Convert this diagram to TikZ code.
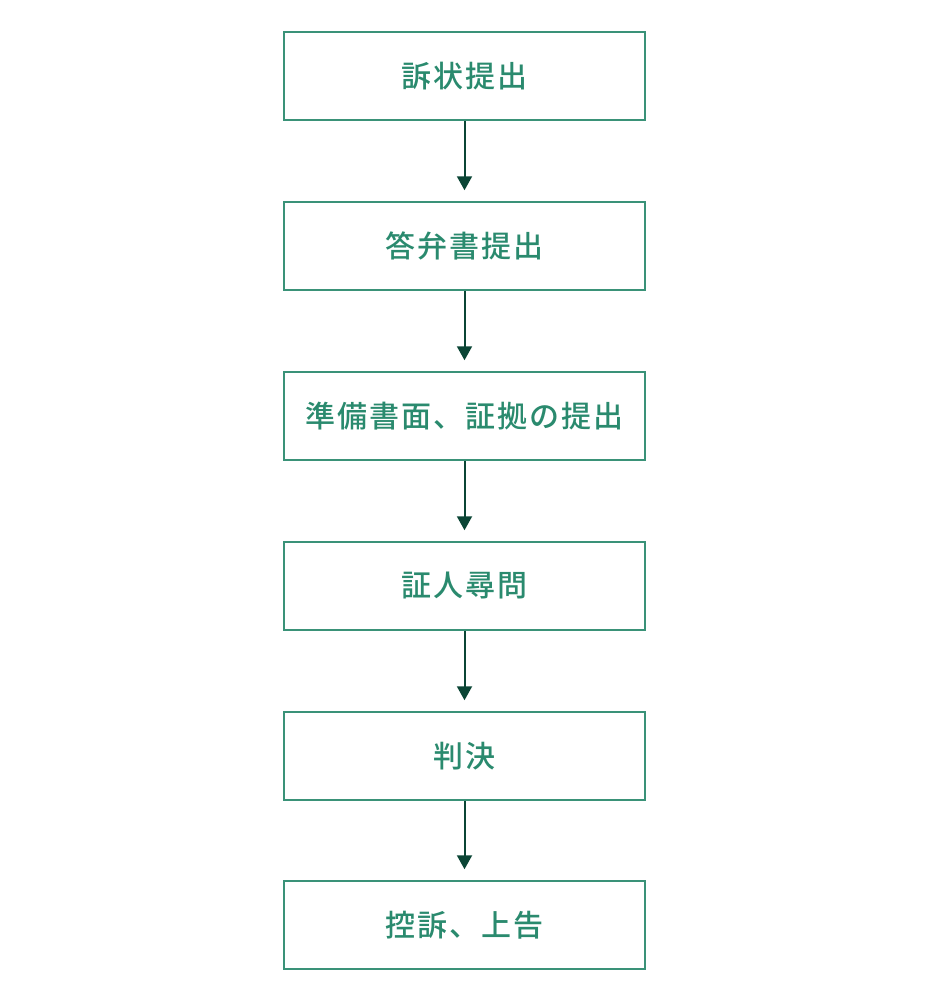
\documentclass[tikz,border=0pt]{standalone}
\usepackage{fontspec}
\newfontfamily\cjk[LetterSpace=7,BoldFont={Noto Sans CJK JP Medium}]{Noto Sans CJK JP}
\usetikzlibrary{arrows.meta}
\definecolor{boxc}{HTML}{3A9278}
\definecolor{txtc}{HTML}{2A8A6E}
\definecolor{arrc}{HTML}{0B4535}
\begin{document}
\begin{tikzpicture}[x=1pt,y=-1pt,
  stepbox/.style={draw=boxc,line width=1.5pt,minimum width=361pt,minimum height=88pt,inner sep=0pt,
    font=\cjk\bfseries\fontsize{30}{34}\selectfont,text=txtc},
  flow/.style={draw=arrc,line width=2pt,-{Triangle[length=14pt,width=15pt]},shorten >=11pt}]
\useasboundingbox (0,0) rectangle (930,1001);
\node[stepbox] (a) at (464.5,76) {訴状提出};
\node[stepbox] (b) at (464.5,246) {答弁書提出};
\node[stepbox] (c) at (464.5,416) {準備書面、証拠の提出};
\node[stepbox] (d) at (464.5,586) {証人尋問};
\node[stepbox] (e) at (464.5,756) {判決};
\node[stepbox] (f) at (464.5,925) {控訴、上告};
\foreach \u/\v in {a/b,b/c,c/d,d/e,e/f}
  \draw[flow] (\u.south) -- (\v.north);
\end{tikzpicture}
\end{document}
